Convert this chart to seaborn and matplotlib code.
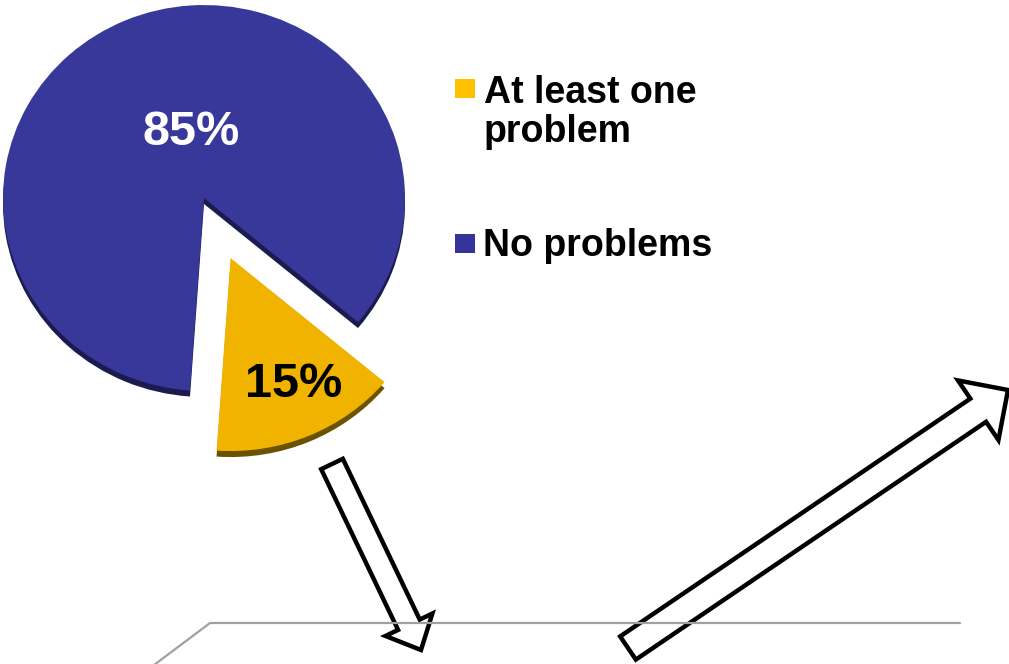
import matplotlib
matplotlib.use("Agg")
import matplotlib.pyplot as plt
from matplotlib.patches import FancyArrow, Rectangle
import seaborn as sns

# Survey result: share of respondents reporting problems
categories = ["At least one\nproblem", "No problems"]
shares = [15, 85]
slice_colors = ["#f0b400", "#38389a"]
depth_colors = ["#6b5200", "#1b1b50"]
legend_colors = ["#ffc000", "#333399"]
label_colors = ["black", "white"]

sns.set_theme(style="white")
plt.rcParams["font.family"] = ["Liberation Sans", "DejaVu Sans"]

W, H = 1009, 664
fig = plt.figure(figsize=(W / 100, H / 100), dpi=100)

# the pie sits on a slightly tilted plane: squash its vertical axis
tilt = 0.96
ax_pie = fig.add_axes([0, 0, 1, 1])
cx, cy, r = 204, (H - 198) / tilt, 201
start = 266
explode = [68, 0]
depth = 6 / tilt

# darker copy underneath gives the slices some thickness
ax_pie.pie(shares, colors=depth_colors, startangle=start, center=(cx, cy - depth),
           radius=r, explode=explode, wedgeprops=dict(linewidth=0))
ax_pie.pie(shares, colors=slice_colors, startangle=start, center=(cx, cy),
           radius=r, explode=explode, wedgeprops=dict(linewidth=0))
ax_pie.set_aspect("auto")
ax_pie.set_xlim(0, W)
ax_pie.set_ylim(0, H / tilt)
ax_pie.axis("off")

# overlay in plain pixel units for labels, legend, arrows
ax = fig.add_axes([0, 0, 1, 1])
ax.patch.set_alpha(0)

# percentage labels
pct_pos = [(294, H - 397), (191, H - 145)]
for v, (x, y), c in zip(shares, pct_pos, label_colors):
    ax.text(x, y, f"{v}%", ha="center", va="baseline", fontsize=35,
            fontweight="bold", color=c)

# legend entries (text anchored on the last line's baseline)
sq_pos = [(455, H - 98), (455, H - 253)]
txt_pos = [(484, H - 142), (483, H - 256)]
for lab, col, (sx, sy), (tx, ty) in zip(categories, legend_colors, sq_pos, txt_pos):
    ax.add_patch(Rectangle((sx, sy), 20, 19, facecolor=col, edgecolor="none"))
    ax.text(tx, ty, lab, ha="left", va="baseline", fontsize=27,
            fontweight="bold", color="black", linespacing=1.12)

# floor plane outline
ax.plot([150, 210, 960], [H - 668, H - 623, H - 623], color="#a0a0a0", lw=1.6,
        solid_joinstyle="miter")

# hollow block arrows
ax.add_patch(FancyArrow(332, H - 464, 89, -186, width=24, head_width=52,
                        head_length=28, length_includes_head=True, fill=False,
                        edgecolor="black", lw=3.2, joinstyle="miter"))
ax.add_patch(FancyArrow(628, H - 648, 380, 258, width=28, head_width=72,
                        head_length=36, length_includes_head=True, fill=False,
                        edgecolor="black", lw=3.2, joinstyle="miter"))

ax.set_xlim(0, W)
ax.set_ylim(0, H)
ax.axis("off")

fig.savefig("out.png", dpi=100)
